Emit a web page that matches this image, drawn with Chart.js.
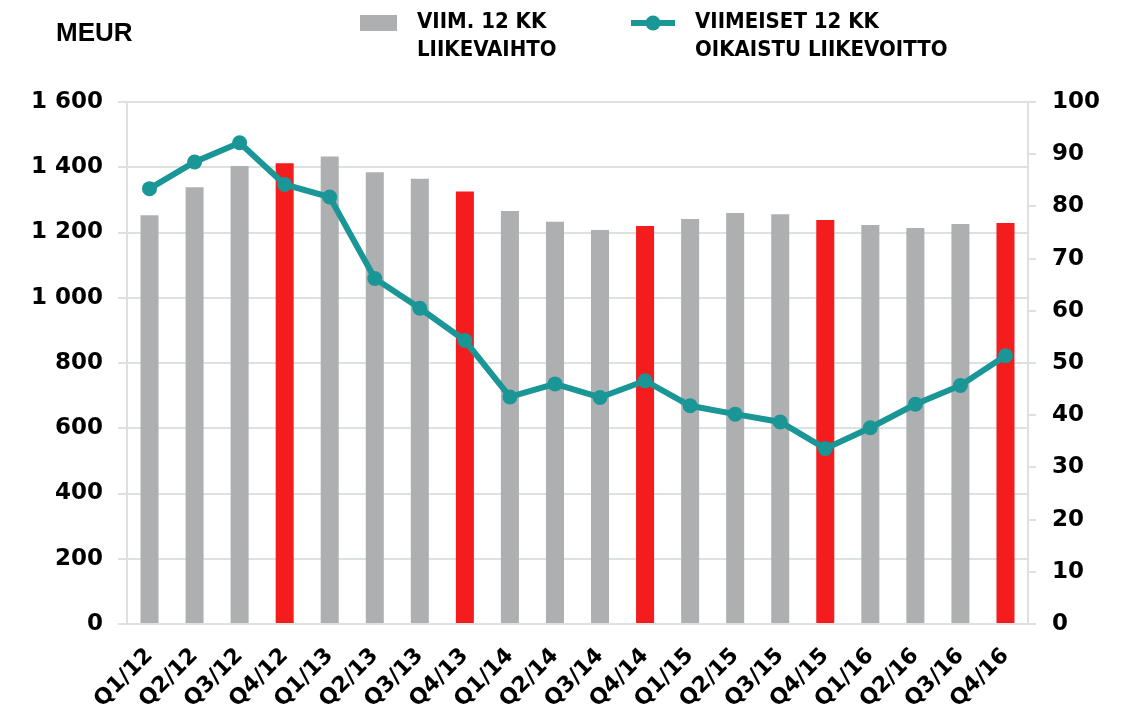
<!DOCTYPE html>
<html>
<head>
<meta charset="utf-8">
<script src="https://cdn.jsdelivr.net/npm/chart.js@4.4.1/dist/chart.umd.min.js"></script>
<style>
  html, body { margin: 0; padding: 0; background: #ffffff; }
  #wrap { width: 1124px; height: 718px; position: relative; }
</style>
</head>
<body>
<div id="wrap"><canvas id="salesChart"></canvas></div>
<script>
const categories = ["Q1/12", "Q2/12", "Q3/12", "Q4/12", "Q1/13", "Q2/13", "Q3/13", "Q4/13",
    "Q1/14", "Q2/14", "Q3/14", "Q4/14", "Q1/15", "Q2/15", "Q3/15", "Q4/15",
    "Q1/16", "Q2/16", "Q3/16", "Q4/16"];
const revenue12m = [1253, 1339, 1404, 1412, 1433, 1385, 1365, 1326, 1266, 1233,
    1208, 1220, 1241, 1260, 1256, 1238, 1223, 1214, 1226, 1229];
const adjustedEbit12m = [83.4, 88.5, 92.2, 84.2, 81.8, 66.2, 60.5, 54.3, 43.5, 46.0,
    43.4, 46.6, 41.8, 40.2, 38.7, 33.6, 37.6, 42.1, 45.7, 51.4];
const leftTicks = [0, 200, 400, 600, 800, 1000, 1200, 1400, 1600];
const rightTicks = [0, 10, 20, 30, 40, 50, 60, 70, 80, 90, 100];
const legendLabels = [["VIIM. 12 KK", "LIIKEVAIHTO"], ["VIIMEISET 12 KK", "OIKAISTU LIIKEVOITTO"]];
const unitLabel = "MEUR";

const GREY = "#aeafb1";
const RED = "#f41c1c";
const TEAL = "#1a9696";
const GRID = "#dde2e0";
const tickFont = { family: "DejaVu Sans", weight: "bold", size: 23 };

// Q4 bars are red, others grey
const barColors = categories.map(c => c.startsWith("Q4") ? RED : GREY);

const fmtThousands = v => String(v).replace(/\B(?=(\d{3})+(?!\d))/g, " ");

const headerPlugin = {
    id: "header",
    afterDraw(chart) {
        const ctx = chart.ctx;
        ctx.save();
        ctx.fillStyle = "#000";
        ctx.textBaseline = "middle";
        ctx.font = "bold 26px 'Liberation Sans'";
        ctx.fillText(unitLabel, 56, 34);

        // legend: bar swatch
        ctx.fillStyle = GREY;
        ctx.fillRect(360, 15, 37, 16);
        // legend: line swatch
        ctx.strokeStyle = TEAL;
        ctx.lineWidth = 6;
        ctx.beginPath();
        ctx.moveTo(631, 23);
        ctx.lineTo(675, 23);
        ctx.stroke();
        ctx.fillStyle = TEAL;
        ctx.beginPath();
        ctx.arc(653, 23, 7.5, 0, Math.PI * 2);
        ctx.fill();

        ctx.fillStyle = "#000";
        ctx.font = "bold 22px 'Liberation Sans Narrow', 'DejaVu Sans Condensed', sans-serif";
        const xs = [417, 695];
        legendLabels.forEach((lines, i) => {
            lines.forEach((t, j) => ctx.fillText(t, xs[i], 22 + j * 28));
        });
        ctx.restore();
    }
};

const ctx = document.getElementById("salesChart").getContext("2d");

const salesChart = new Chart(ctx, {
    data: {
        labels: categories,
        datasets: [{
            type: "line",
            label: "Viimeiset 12 kk oikaistu liikevoitto",
            data: adjustedEbit12m,
            yAxisID: "yRight",
            borderColor: TEAL,
            backgroundColor: TEAL,
            borderWidth: 6,
            pointRadius: 7.5,
            pointHoverRadius: 7.5,
            pointBackgroundColor: TEAL,
            pointBorderWidth: 0,
            tension: 0,
            order: 0
        }, {
            type: "bar",
            label: "Viim. 12 kk liikevaihto",
            data: revenue12m,
            yAxisID: "yLeft",
            backgroundColor: barColors,
            categoryPercentage: 0.8,
            barPercentage: 0.5,
            order: 1
        }]
    },
    options: {
        responsive: true,
        maintainAspectRatio: false,
        animation: false,
        layout: { padding: { top: 102, left: 0, right: 0, bottom: 0 } },
        plugins: {
            legend: { display: false },
            tooltip: { enabled: false }
        },
        scales: {
            x: {
                grid: { display: false },
                border: { display: true, color: GRID, width: 2 },
                ticks: {
                    color: "#000",
                    font: { family: "DejaVu Sans", weight: "bold", size: 22 },
                    minRotation: 45,
                    maxRotation: 45,
                    autoSkip: false,
                    padding: 11
                },
                afterFit(scale) { scale.height = 94; }
            },
            yLeft: {
                position: "left",
                min: 0,
                max: 1600,
                afterBuildTicks(scale) { scale.ticks = leftTicks.map(v => ({ value: v })); },
                grid: { color: GRID, lineWidth: 2, tickLength: 9 },
                border: { display: true, color: GRID, width: 2 },
                ticks: {
                    color: "#000",
                    font: tickFont,
                    padding: 15,
                    callback: v => fmtThousands(v)
                },
                afterFit(scale) { scale.width = 127; }
            },
            yRight: {
                position: "right",
                min: 0,
                max: 100,
                afterBuildTicks(scale) { scale.ticks = rightTicks.map(v => ({ value: v })); },
                grid: { drawOnChartArea: false, color: GRID, lineWidth: 2, tickLength: 8 },
                border: { display: true, color: GRID, width: 2 },
                ticks: {
                    color: "#000",
                    font: tickFont,
                    padding: 16
                },
                afterFit(scale) { scale.width = 96; }
            }
        }
    },
    plugins: [headerPlugin]
});
</script>
</body>
</html>
